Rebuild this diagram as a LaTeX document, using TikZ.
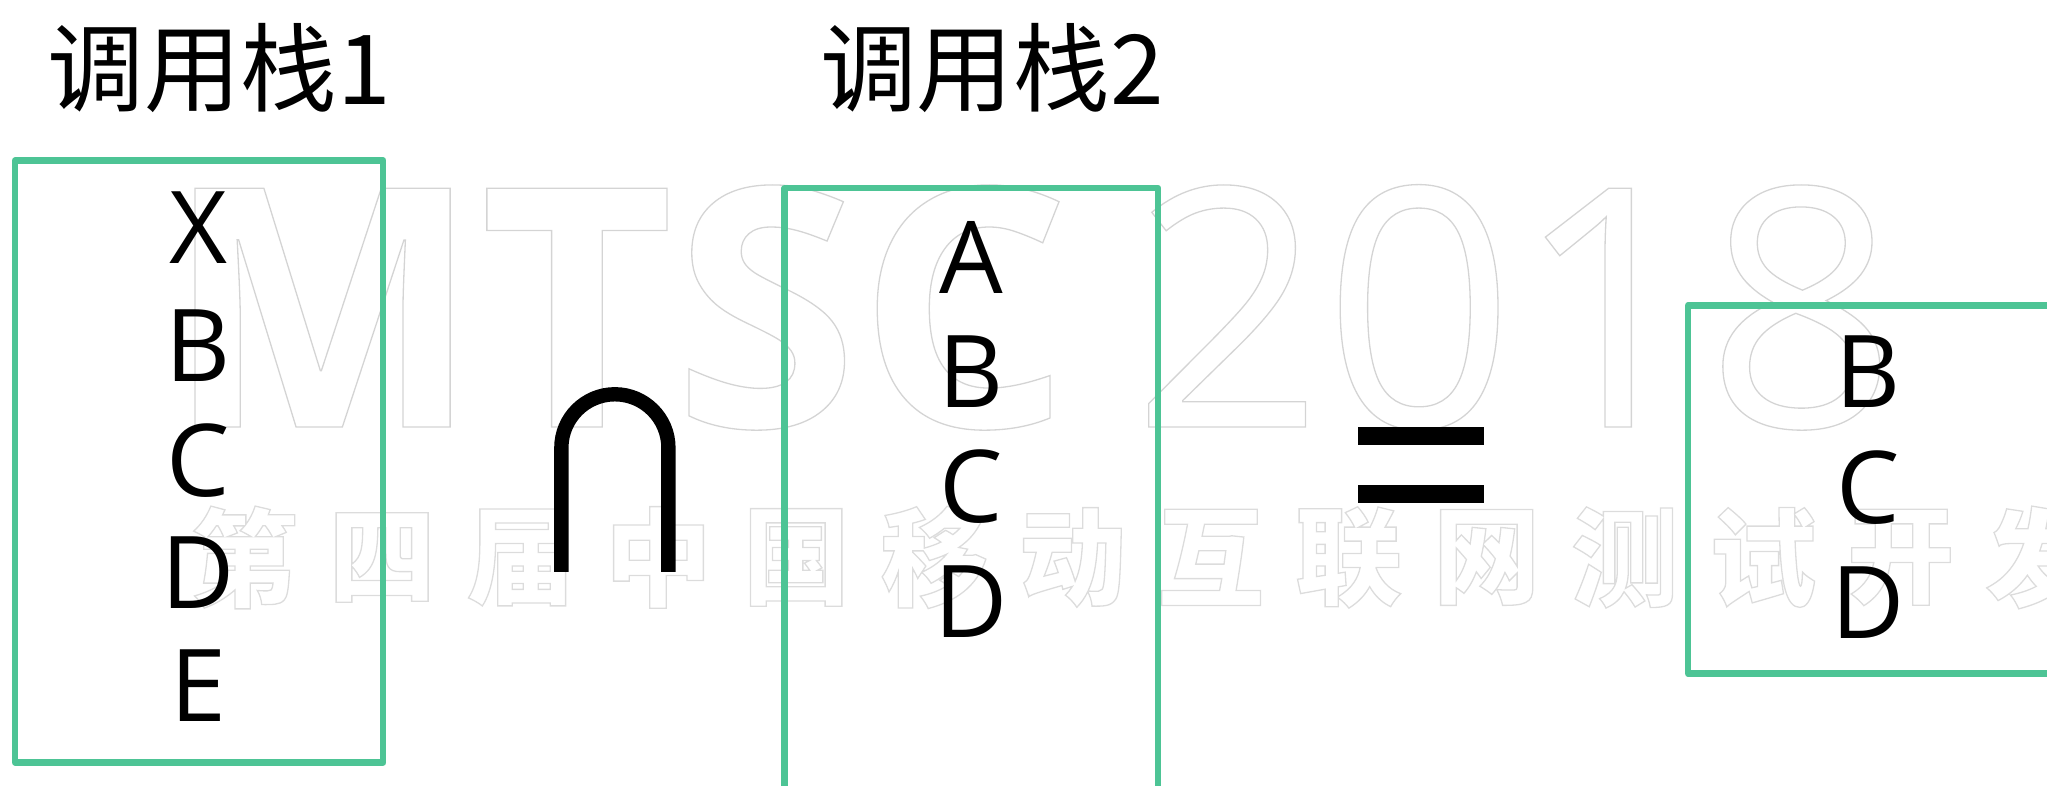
\documentclass[tikz,border=0pt]{standalone}
\usepackage{fontspec}
\setmainfont{Open Sans}
\newfontfamily\cjkfont{Noto Sans CJK SC}
\newcommand\wmon{\special{pdf:literal direct 1 Tr 0.5 w}}
\newcommand\wmoff{\special{pdf:literal direct 0 Tr}}
\definecolor{boxgreen}{RGB}{77,196,149}
\definecolor{wmgray}{RGB}{212,212,212}
\definecolor{wmgraylight}{RGB}{220,220,220}
\tikzset{
  stackbox/.style={draw=boxgreen, line width=2.5pt, line join=round},
  letter/.style={anchor=base, inner sep=0pt, font=\fontsize{38.5}{40}\selectfont},
  titletext/.style={anchor=base west, inner sep=0pt, font=\cjkfont\fontsize{37}{40}\selectfont},
  wmbig/.style={anchor=base west, inner sep=0pt, text=wmgray},
  wmcjk/.style={anchor=center, inner sep=0pt, text=wmgraylight, font=\cjkfont\bfseries\fontsize{41}{44}\selectfont},
  capline/.style={draw=black, line width=5.5pt},
}
\begin{document}
\begin{tikzpicture}[x=0.5pt,y=-0.5pt]
\useasboundingbox (0,0) rectangle (1568,602);
\clip (0,0) rectangle (1568,602);
% watermark
\node[wmbig, font=\fontsize{128}{130}\selectfont\bfseries] (wmA) at (126,327) {\wmon MTSC\wmoff};
\node[wmbig, font=\fontsize{128}{130}\selectfont] (wmB) at (867,327) {\wmon 2018\wmoff};
\foreach \c [count=\i from 0] in {第,四,届,中,国,移,动,互,联,网,测,试,开,发}
  \node[wmcjk] (wmc\i) at ({187+105.75*\i},427) {\wmon\c\wmoff};
% titles
\node[titletext] (t1) at (36,80) {调用栈1};
\node[titletext] (t2) at (628,80) {调用栈2};
% stack 1
\draw[stackbox] (11.5,123) rectangle (293.5,584);
\node[letter] (s1x) at (152,202) {X};
\node[letter] (s1b) at (152,292) {B};
\node[letter] (s1c) at (152,380) {C};
\node[letter] (s1d) at (152,466) {D};
\node[letter] (s1e) at (152,553) {E};
% intersection sign
\draw[capline] (430,438) -- (430,343) arc[start angle=180, end angle=360, radius=41] -- (512,438);
% stack 2
\draw[stackbox] (601,640) -- (601,144) -- (887,144) -- (887,640);
\node[letter] (s2a) at (744,225) {A};
\node[letter] (s2b) at (744,312) {B};
\node[letter] (s2c) at (744,400) {C};
\node[letter] (s2d) at (744,488) {D};
% equals sign
\fill (1040,327) rectangle (1137,341);
\fill (1040,371.5) rectangle (1137,385.5);
% result
\draw[stackbox] (1620,234) -- (1293,234) -- (1293,516) -- (1620,516);
\node[letter] (s3b) at (1431,312) {B};
\node[letter] (s3c) at (1431,401) {C};
\node[letter] (s3d) at (1431,489) {D};
\end{tikzpicture}
\end{document}
